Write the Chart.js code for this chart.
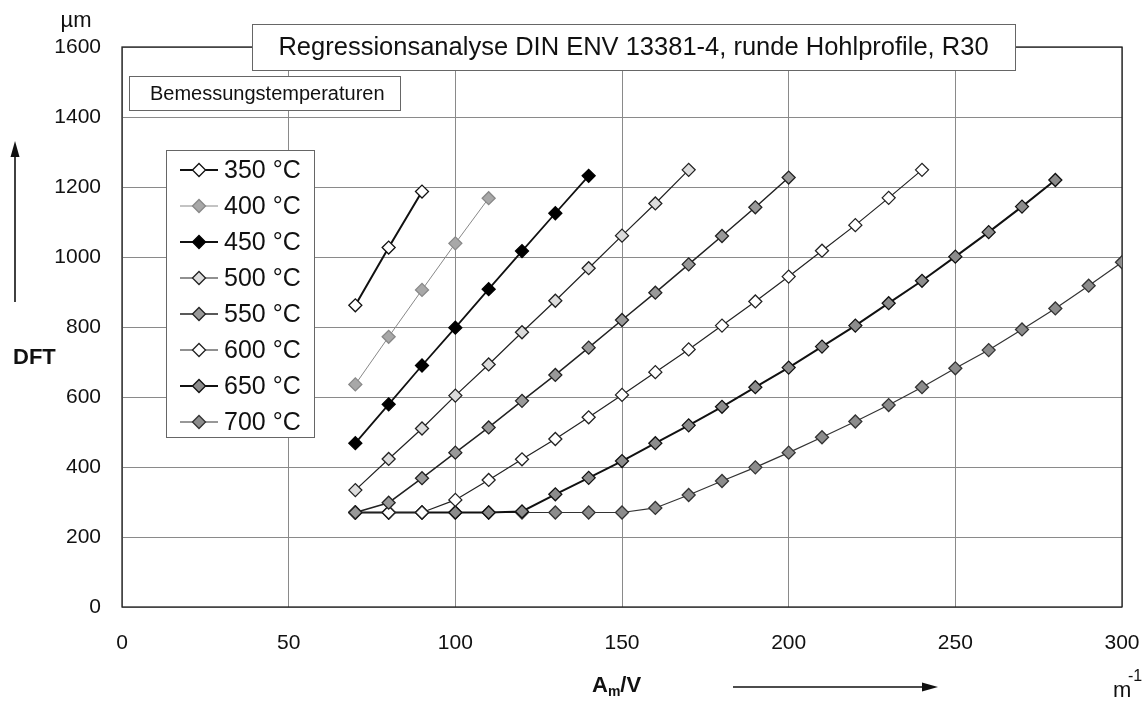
<!DOCTYPE html>
<html>
<head>
<meta charset="utf-8">
<script src="https://cdn.jsdelivr.net/npm/chart.js@4.4.1/dist/chart.umd.min.js"></script>
<style>
html,body{margin:0;padding:0;background:#fff;}
#wrap{width:1144px;height:701px;position:relative;}
</style>
</head>
<body>
<div id="wrap"><canvas id="c" width="1144" height="701"></canvas></div>
<script>
// Am/V values (m^-1), every series starts at 70
const amV = [70,80,90,100,110,120,130,140,150,160,170,180,190,200,210,220,230,240,250,260,270,280,290,300];
const seriesLabels = ['350 °C','400 °C','450 °C','500 °C','550 °C','600 °C','650 °C','700 °C'];
const dft350 = [862,1027,1187];
const dft400 = [636,772,906,1039,1168];
const dft450 = [468,579,690,798,908,1017,1125,1232];
const dft500 = [334,423,510,604,693,785,875,968,1061,1153,1249];
const dft550 = [270,298,368,441,513,589,663,741,820,898,979,1060,1142,1227];
const dft600 = [270,270,270,306,363,422,480,542,606,671,736,804,873,944,1018,1091,1169,1249];
const dft650 = [270,270,270,270,270,273,322,369,417,468,519,572,628,684,744,804,868,932,1001,1071,1144,1220];
const dft700 = [270,270,270,270,270,270,270,270,270,283,320,360,399,441,485,530,577,628,682,734,793,853,918,985];
const xTicks = [0,50,100,150,200,250,300];
const yTicks = [0,200,400,600,800,1000,1200,1400,1600];
const titleText = 'Regressionsanalyse DIN ENV 13381-4, runde Hohlprofile, R30';
const subTitleText = 'Bemessungstemperaturen';

const styles = [
  {fill:'#ffffff', border:'#111', line:'#111', lw:2},
  {fill:'#a8a8a8', border:'#888', line:'#888', lw:1},
  {fill:'#000000', border:'#000', line:'#111', lw:1.8},
  {fill:'#dcdcdc', border:'#222', line:'#222', lw:1.2},
  {fill:'#999999', border:'#222', line:'#222', lw:1.5},
  {fill:'#ffffff', border:'#222', line:'#222', lw:1.2},
  {fill:'#8c8c8c', border:'#111', line:'#111', lw:2},
  {fill:'#8c8c8c', border:'#333', line:'#333', lw:1.2}
];
const allSeries = [dft350,dft400,dft450,dft500,dft550,dft600,dft650,dft700];
const datasets = allSeries.map((vals,i)=>({
  label: seriesLabels[i],
  data: vals.map((v,j)=>({x:amV[j], y:v})),
  showLine: true,
  borderColor: styles[i].line,
  borderWidth: styles[i].lw,
  pointStyle: 'rectRot',
  pointRadius: 6.5,
  pointBackgroundColor: styles[i].fill,
  pointBorderColor: styles[i].border,
  pointBorderWidth: 1.3,
  tension: 0
}));

const FONT = '"Liberation Sans", Arial, sans-serif';

function fitFont(ctx, text, width, weight){
  let size = 30;
  while(size > 8){
    ctx.font = (weight||'') + ' ' + size + 'px ' + FONT;
    if (ctx.measureText(text).width <= width) break;
    size -= 0.5;
  }
  return size;
}

const framePlugin = {
  id:'frame',
  beforeDatasetsDraw(chart){
    const {ctx, chartArea:a} = chart;
    ctx.save();
    ctx.strokeStyle = '#222';
    ctx.lineWidth = 1.3;
    ctx.strokeRect(a.left, a.top, a.right-a.left, a.bottom-a.top);
    ctx.restore();
  }
};

const decorPlugin = {
  id:'decor',
  afterDraw(chart){
    const ctx = chart.ctx;
    ctx.save();
    // Title box
    ctx.fillStyle = '#fff';
    ctx.fillRect(252,24,763,46);
    ctx.strokeStyle = '#666'; ctx.lineWidth = 1;
    ctx.strokeRect(252.5,24.5,763,46);
    fitFont(ctx, titleText, 712);
    ctx.fillStyle = '#111'; ctx.textAlign = 'center'; ctx.textBaseline = 'middle';
    ctx.fillText(titleText, 633.5, 48);
    // Subtitle box
    ctx.fillStyle = '#fff';
    ctx.fillRect(129,76,271,34);
    ctx.strokeStyle = '#666';
    ctx.strokeRect(129.5,76.5,271,34);
    fitFont(ctx, subTitleText, 238);
    ctx.fillStyle = '#111'; ctx.textAlign = 'left';
    ctx.fillText(subTitleText, 150, 94);
    // Legend box
    ctx.fillStyle = '#fff';
    ctx.fillRect(166,150,148,287);
    ctx.strokeStyle = '#666';
    ctx.strokeRect(166.5,150.5,148,287);
    const ls = fitFont(ctx, '350 °C', 78);
    chart.data.datasets.forEach((ds,i)=>{
      const y = 170 + i*36;
      ctx.strokeStyle = ds.borderColor; ctx.lineWidth = ds.borderWidth;
      ctx.beginPath(); ctx.moveTo(180,y); ctx.lineTo(218,y); ctx.stroke();
      ctx.beginPath();
      const r = 6.5;
      ctx.moveTo(199-r,y); ctx.lineTo(199,y-r); ctx.lineTo(199+r,y); ctx.lineTo(199,y+r); ctx.closePath();
      ctx.fillStyle = ds.pointBackgroundColor; ctx.fill();
      ctx.strokeStyle = ds.pointBorderColor; ctx.lineWidth = 1.3; ctx.stroke();
      ctx.font = ls + 'px ' + FONT;
      ctx.fillStyle = '#111'; ctx.textAlign='left'; ctx.textBaseline='middle';
      ctx.fillText(ds.label, 224, y+1);
    });
    // Unit µm
    ctx.font = '22px ' + FONT; ctx.fillStyle = '#111';
    ctx.textAlign = 'center'; ctx.textBaseline = 'alphabetic';
    ctx.fillText('µm', 76, 27);
    // DFT
    ctx.font = 'bold 22px ' + FONT;
    ctx.textAlign = 'left'; ctx.textBaseline = 'middle';
    ctx.fillText('DFT', 13, 358);
    // Y arrow
    ctx.strokeStyle = '#111'; ctx.lineWidth = 1.6;
    ctx.beginPath(); ctx.moveTo(15,302); ctx.lineTo(15,152); ctx.stroke();
    ctx.fillStyle = '#111';
    ctx.beginPath(); ctx.moveTo(15,141); ctx.lineTo(10.5,157); ctx.lineTo(19.5,157); ctx.closePath(); ctx.fill();
    // X title A_m/V
    ctx.font = 'bold 22px ' + FONT; ctx.textAlign='left'; ctx.textBaseline='alphabetic';
    let x = 592;
    ctx.fillText('A', x, 692); x += ctx.measureText('A').width;
    ctx.font = 'bold 14px ' + FONT;
    ctx.fillText('m', x, 696); x += ctx.measureText('m').width;
    ctx.font = 'bold 22px ' + FONT;
    ctx.fillText('/V', x, 692);
    // X arrow
    ctx.lineWidth = 1.6;
    ctx.beginPath(); ctx.moveTo(733,687); ctx.lineTo(926,687); ctx.stroke();
    ctx.beginPath(); ctx.moveTo(938,687); ctx.lineTo(922,682.5); ctx.lineTo(922,691.5); ctx.closePath(); ctx.fill();
    // m^-1
    ctx.font = '22px ' + FONT; ctx.textAlign='left';
    ctx.fillText('m', 1113, 697);
    ctx.font = '16px ' + FONT;
    ctx.fillText('-1', 1128, 681);
    ctx.restore();
  }
};

new Chart(document.getElementById('c'), {
  type: 'scatter',
  data: { datasets },
  options: {
    responsive: false,
    animation: false,
    devicePixelRatio: 1,
    layout: { padding: { left: 0, right: 22, top: 47, bottom: 0 } },
    plugins: { legend: { display: false }, tooltip: { enabled: false } },
    scales: {
      x: {
        type: 'linear', min: 0, max: 300,
        afterBuildTicks(s){ s.ticks = xTicks.map(v=>({value:v})); },
        afterFit(s){ s.height = 94; s.paddingLeft = 0; s.paddingRight = 0; },
        grid: { color: '#8a8a8a', lineWidth: 1, drawTicks: false },
        border: { display: false },
        ticks: { color: '#111', padding: 24, font: { family: FONT, size: 21 }, maxRotation: 0,
                 callback: v => String(v) }
      },
      y: {
        type: 'linear', min: 0, max: 1600,
        afterBuildTicks(s){ s.ticks = yTicks.map(v=>({value:v})); },
        afterFit(s){ s.width = 122; s.paddingTop = 0; s.paddingBottom = 0; },
        grid: { color: '#8a8a8a', lineWidth: 1, drawTicks: false },
        border: { display: false },
        ticks: { color: '#111', padding: 21, font: { family: FONT, size: 21 },
                 callback: v => String(v) }
      }
    }
  },
  plugins: [framePlugin, decorPlugin]
});
</script>
</body>
</html>
